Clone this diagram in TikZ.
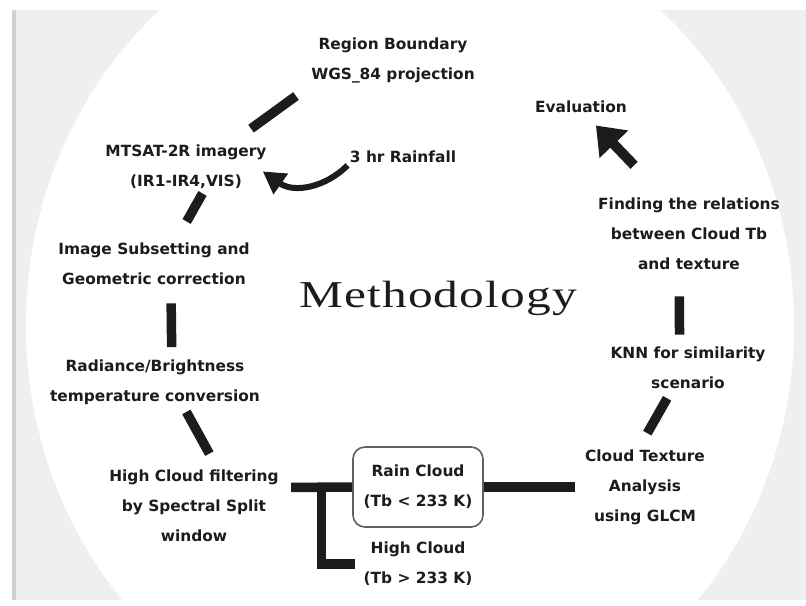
\documentclass[tikz,border=0pt]{standalone}
\usepackage{fontspec}
\usepackage{xcolor}
\usepackage{tikz}
\usetikzlibrary{positioning, arrows.meta, calc}
\newfontfamily\stepfont{DejaVu Sans}
\newfontfamily\titlefont{Liberation Serif}[FakeStretch=1.3, LetterSpace=3]
\definecolor{slidegray}{HTML}{EFEFEF}
\definecolor{edgegray}{HTML}{D0D0D0}
\definecolor{ink}{HTML}{1C1C1C}
\definecolor{boxline}{HTML}{606060}

\begin{document}
\begin{tikzpicture}[x=0.5pt, y=-0.5pt, node distance=38.5pt,
    lbl/.style={align=center, inner sep=1pt, text=ink, font=\stepfont\bfseries\fontsize{7.7}{15}\selectfont},
    boxed/.style={lbl, draw=boxline, line width=0.8pt, rounded corners=6pt, minimum width=65pt, minimum height=40pt},
    bar/.style={line width=4.75pt, ink},
    bigarrow/.style={line width=5pt, ink, -{Triangle[width=19pt, length=13pt]}},
    curvearrow/.style={line width=3pt, ink, -{Triangle[width=12pt, length=11pt]}}]
    \useasboundingbox (0,0) rectangle (806,605);
    \fill[white] (0,0) rectangle (806,605);
    \fill[slidegray] (12,10) rectangle (806,600);
    \begin{scope}
        \clip (12,10) rectangle (806,600);
        \fill[white] (410,325) ellipse [x radius=192pt, y radius=207.5pt];
    \end{scope}
    \fill[edgegray] (12,10) rectangle (16,600);

    \node[font=\titlefont\fontsize{19}{22}\selectfont, text=ink] (method) at (438,298) {Methodology};

    \node[lbl] (region) at (393,60) {Region Boundary\\WGS\_84 projection};
    \node[lbl] (eval) at (581,107) {Evaluation};
    \node[lbl] (mtsat) at (186,167) {MTSAT-2R imagery\\(IR1-IR4,VIS)};
    \node[lbl] (rain3) at (403,157) {3 hr Rainfall};
    \node[lbl] (subset) at (154,264) {Image Subsetting and\\Geometric correction};
    \node[lbl] (finding) at (689,234) {Finding the relations\\between Cloud Tb\\and texture};
    \node[lbl] (radiance) at (155,382) {Radiance/Brightness\\temperature conversion};
    \node[lbl] (knn) at (688,368) {KNN for similarity\\scenario};
    \node[lbl] (hcfilter) at (194,506) {High Cloud filtering\\by Spectral Split\\window};
    \node[boxed] (rain) at (418,487) {Rain Cloud\\(Tb < 233 K)};
    \node[lbl, below of=rain] (highcloud) {High Cloud\\(Tb > 233 K)};
    \node[lbl] (texture) at (645,487) {Cloud Texture\\Analysis\\using GLCM};

    \draw[bar, shorten <=9.3pt, shorten >=11.9pt] (region.197) -- (mtsat.28);
    \draw[bar, shorten <=1.2pt, shorten >=11pt] (mtsat.306) -- (subset.47);
    \draw[bar, shorten <=8pt, shorten >=5pt] (subset.306) -- (radiance.56);
    \draw[bar, shorten <=2.9pt, shorten >=8pt] (radiance.319) -- (hcfilter.59);
    \draw[bar, shorten <=5pt] (hcfilter.12.5) -- (rain.west);
    \draw[bar, shorten >=3pt] ($(hcfilter.12.5)!0.57!(rain.west)$) |- (highcloud.west);
    \draw[bar, shorten >=3.75pt] (rain.east) -- (texture.west);
    \draw[bar, shorten <=8pt, shorten >=4pt] (texture.98) -- (knn.234);
    \draw[bar, shorten <=12pt, shorten >=5pt] (finding.256) -- (knn.110);
    \draw[bigarrow, shorten <=21pt, shorten >=7pt] (finding.124) -- (eval.302);
    \draw[curvearrow, shorten >=-3.75pt] (rain3.south west) to[out=225, in=-35] (mtsat.-6);
\end{tikzpicture}
\end{document}
